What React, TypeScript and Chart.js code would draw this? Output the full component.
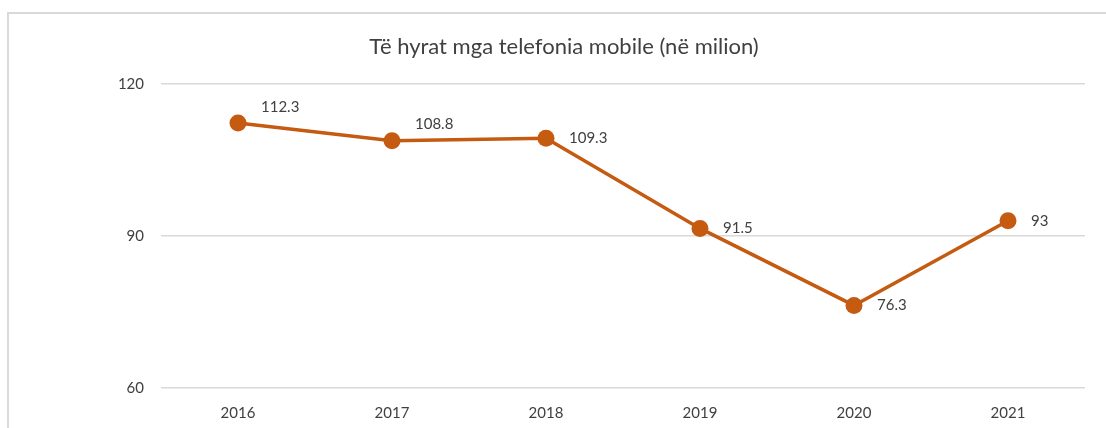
import React, { useEffect, useRef } from "react";
import { Chart, registerables } from "chart.js";

Chart.register(...registerables);

const TITLE = "Të hyrat mga telefonia mobile (në milion)";
const years = ["2016", "2017", "2018", "2019", "2020", "2021"];
const revenue = [112.3, 108.8, 109.3, 91.5, 76.3, 93];
const valueLabels = ["112.3", "108.8", "109.3", "91.5", "76.3", "93"];
const yTicks = [60, 90, 120];

const LINE_COLOR = "#C55A11";
const TEXT_COLOR = "#404040";
const GRID_COLOR = "#D9D9D9";
const FONT = "Lato, 'Noto Sans', sans-serif";
// label placement (style only)
const labelDx = 23;
const labelDy = [-16, -17, 0, 0, 0, 0];

const valueLabelPlugin = {
  id: "valueLabels",
  afterDatasetsDraw(chart: any) {
    const ctx = chart.ctx;
    const meta = chart.getDatasetMeta(0);
    ctx.save();
    ctx.fillStyle = TEXT_COLOR;
    ctx.font = `15px ${FONT}`;
    ctx.textAlign = "left";
    ctx.textBaseline = "middle";
    meta.data.forEach((pt: any, i: number) => {
      ctx.fillText(valueLabels[i], pt.x + labelDx, pt.y + labelDy[i]);
    });
    ctx.restore();
  },
};

export default function App() {
  const ref = useRef<HTMLCanvasElement | null>(null);
  useEffect(() => {
    if (!ref.current) return;
    const chart = new Chart(ref.current, {
      type: "line",
      data: {
        labels: years,
        datasets: [
          {
            data: revenue,
            borderColor: LINE_COLOR,
            backgroundColor: LINE_COLOR,
            borderWidth: 3.5,
            pointRadius: 8.5,
            pointHoverRadius: 8.5,
            pointBackgroundColor: LINE_COLOR,
            pointBorderColor: LINE_COLOR,
            pointBorderWidth: 0,
            tension: 0,
          },
        ],
      },
      options: {
        animation: false,
        responsive: false,
        maintainAspectRatio: false,
        layout: { padding: { left: 43, right: 21, top: 0, bottom: 0 } },
        plugins: {
          legend: { display: false },
          tooltip: { enabled: false },
          title: {
            display: true,
            text: TITLE,
            color: TEXT_COLOR,
            font: { family: FONT, size: 22, weight: "normal", lineHeight: 1.2 },
            padding: { top: 34, bottom: 23.6 },
          },
        },
        scales: {
          x: {
            offset: true,
            grid: { display: false, drawTicks: false },
            border: { display: false },
            ticks: { color: TEXT_COLOR, font: { family: FONT, size: 15 }, padding: 16, maxRotation: 0 },
            afterFit: (s: any) => {
              s.height = 40;
            },
          },
          y: {
            min: 60,
            max: 120,
            afterBuildTicks: (s: any) => {
              s.ticks = yTicks.map((v) => ({ value: v }));
            },
            grid: { color: GRID_COLOR, lineWidth: 1.5, drawTicks: false },
            border: { display: false },
            ticks: { color: TEXT_COLOR, font: { family: FONT, size: 15 }, padding: 17 },
            afterFit: (s: any) => {
              s.width = 118;
            },
          },
        },
      },
      plugins: [valueLabelPlugin],
    });
    return () => chart.destroy();
  }, []);

  return (
    <div style={{ position: "absolute", left: 0, top: 0, width: 1106, height: 428, overflow: "hidden", background: "#fff" }}>
      <div
        style={{
          position: "absolute",
          left: 7,
          top: 12,
          width: 1120,
          height: 440,
          border: "2px solid #D9D9D9",
          boxSizing: "border-box",
        }}
      />
      <canvas ref={ref} width={1106} height={428} style={{ position: "absolute", left: 0, top: 0, width: 1106, height: 428 }} />
    </div>
  );
}
